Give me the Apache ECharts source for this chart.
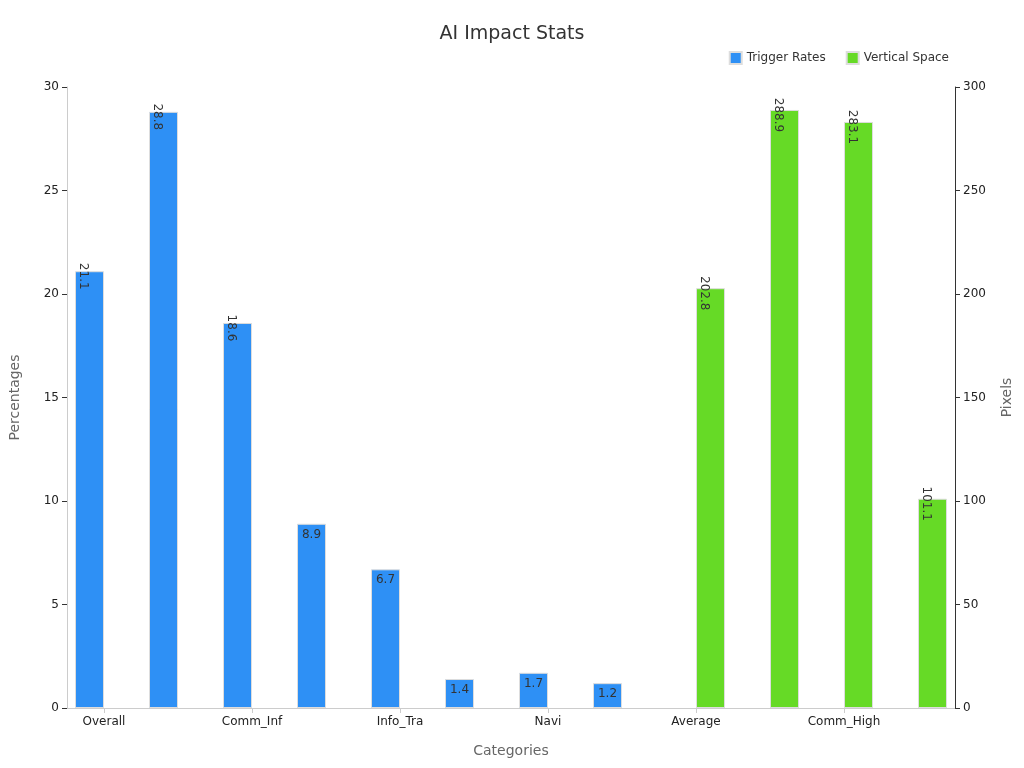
<!DOCTYPE html>
<html><head><meta charset="utf-8">
<script src="https://cdn.jsdelivr.net/npm/echarts@6/dist/echarts.min.js"></script>
<style>html,body{margin:0;padding:0}#c{width:1024px;height:768px}</style>
</head><body><div id="c"></div>
<script>
const categories = ["Overall","Highest","Comm_Inf","Info_Nav","Info_Tra","Comm_Nav","Navi","Nav_Tra","Average","Nav_High","Comm_High","Tran_Low"];
const triggerRates = [21.1,28.8,18.6,8.9,6.7,1.4,1.7,1.2,null,null,null,null];
const verticalSpace = [null,null,null,null,null,null,null,null,202.8,288.9,283.1,101.1];
function lab(v, big){ if(v==null) return null; return {value:v, label:{rotate: v>big? -90:0}}; }
const chart = echarts.init(document.getElementById('c'));
const font = 'DejaVu Sans';
chart.setOption({
  textStyle:{fontFamily:font},
  title:{text:'AI Impact Stats',left:'center',top:20,textStyle:{fontSize:19,fontWeight:'normal',color:'#333',fontFamily:font}},
  legend:{right:70,top:46,itemWidth:12,itemHeight:12,itemGap:20,textStyle:{fontSize:12,color:'#333'},
    data:[{name:'Trigger Rates',icon:'rect'},{name:'Vertical Space',icon:'rect'}]},
  grid:{left:60,right:69,top:87,bottom:60},
  xAxis:{type:'category',data:categories,name:'Categories',nameLocation:'middle',nameGap:36,
    nameTextStyle:{fontSize:14,color:'#666'},axisTick:{show:true,alignWithLabel:true},
    axisLine:{lineStyle:{color:'#ccc'}},axisLabel:{color:'#222',fontSize:12}},
  yAxis:[
    {type:'value',min:0,max:30,interval:5,name:'Percentages',nameLocation:'middle',nameGap:45,
     nameTextStyle:{fontSize:14,color:'#666'},splitLine:{show:false},
     axisLine:{show:true,lineStyle:{color:'#ccc'}},axisTick:{show:true,lineStyle:{color:'#333'}},axisLabel:{color:'#222',fontSize:12}},
    {type:'value',min:0,max:300,interval:50,name:'Pixels',nameLocation:'middle',nameGap:45,
     nameTextStyle:{fontSize:14,color:'#666'},splitLine:{show:false},
     axisLine:{show:true,lineStyle:{color:'#333'}},axisTick:{show:true},axisLabel:{color:'#222',fontSize:12}}
  ],
  series:[
    {name:'Trigger Rates',type:'bar',yAxisIndex:0,barWidth:29,barGap:'0%',
     itemStyle:{color:'#2E90F5',borderColor:'#ddd',borderWidth:1},
     label:{show:true,position:'insideTop',color:'#333',fontSize:12},
     data:triggerRates.map(v=>lab(v,10))},
    {name:'Vertical Space',type:'bar',yAxisIndex:1,barWidth:29,
     itemStyle:{color:'#66DA26',borderColor:'#ddd',borderWidth:1},
     label:{show:true,position:'insideTop',color:'#333',fontSize:12},
     data:verticalSpace.map(v=>lab(v,100))}
  ]
});
</script></body></html>
